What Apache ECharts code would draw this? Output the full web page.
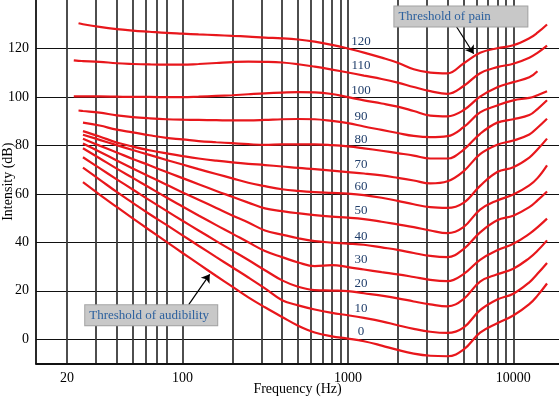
<!DOCTYPE html>
<html>
<head>
<meta charset="utf-8">
<title>Equal-loudness contours</title>
<script src="https://cdn.jsdelivr.net/npm/echarts@6/dist/echarts.min.js"></script>
<style>
  html, body { margin: 0; padding: 0; background: #fff; }
  #chart { width: 559px; height: 397px; }
</style>
</head>
<body>
<div id="chart"></div>
<script>
var freqs = [22, 23.5, 25, 31.5, 40, 50, 63, 80, 100, 125, 160, 200, 250, 315, 400, 500, 630, 800,
  1000, 1250, 1600, 2000, 2500, 3150, 4000, 5000, 6300, 8000, 10000, 12500, 14000, 16000];

// loudness level of each contour (phon)
var phons = [0, 10, 20, 30, 40, 50, 60, 70, 80, 90, 100, 110, 120];

// intensity (dB) of each contour at the frequencies above, null = not drawn
var contour0 = [null, null, 64.8, 59.7, 54.6, 49.9, 45.1, 40.2, 35.6, 31.1, 26.1, 21.7, 17.3, 13.2, 9.2, 5.6, 2.8, 1.2,
  0.3, -0.8, -2.6, -4.4, -5.9, -6.8, -7.0, -4.3, 2.7, 6.6, 9.8, 14.5, 18.0, 23.0];
var contour10 = [null, null, 70.8, 65.9, 60.8, 56.3, 51.7, 47.2, 42.9, 38.6, 33.9, 29.7, 25.5, 21.0, 16.1, 14.0, 12.3, 10.9,
  9.9, 8.8, 7.4, 5.8, 4.3, 3.1, 2.6, 4.8, 12.0, 16.4, 18.8, 23.5, 27.0, 31.5];
var contour20 = [null, null, 75.1, 70.6, 66.0, 61.8, 57.4, 53.0, 48.9, 44.9, 40.5, 36.6, 32.7, 28.5, 24.3, 21.7, 20.3, 20.1,
  19.9, 19.0, 18.0, 16.9, 15.6, 14.4, 13.6, 16.6, 23.8, 26.8, 29.1, 33.5, 36.5, 40.8];
var contour30 = [null, null, 78.8, 74.7, 70.4, 66.6, 62.6, 58.5, 54.8, 51.1, 47.1, 43.6, 40.0, 36.4, 33.9, 31.7, 30.2, 30.6,
  29.8, 28.8, 27.7, 26.8, 25.7, 24.5, 24.0, 26.9, 32.8, 36.7, 39.4, 43.5, 46.2, 49.8];
var contour40 = [null, null, 80.8, 77.4, 73.8, 70.5, 67.2, 63.8, 60.6, 57.6, 54.2, 51.1, 48.2, 44.9, 43.2, 41.7, 40.5, 39.9,
  39.5, 39.0, 37.9, 36.9, 35.6, 34.4, 33.9, 37.2, 44.1, 49.1, 51.0, 54.5, 57.3, 61.0];
var contour50 = [null, null, 82.7, 79.9, 77.1, 74.4, 71.8, 69.0, 66.5, 64.0, 61.2, 58.8, 56.4, 54.0, 52.9, 52.0, 51.2, 50.6,
  50.2, 49.6, 48.5, 47.4, 46.3, 44.9, 43.8, 46.3, 53.5, 57.3, 59.7, 63.5, 66.5, 71.8];
var contour60 = [null, null, 84.4, 82.3, 80.1, 78.1, 76.1, 74.0, 72.1, 70.2, 68.2, 66.4, 64.6, 63.2, 61.9, 61.2, 60.7, 60.4,
  60.1, 59.5, 58.4, 57.1, 55.7, 54.5, 54.2, 56.3, 63.3, 69.0, 71.0, 75.0, 78.3, 82.8];
var contour70 = [null, null, 85.9, 83.7, 81.2, 79.5, 78.0, 76.7, 75.6, 74.6, 73.7, 73.0, 72.4, 71.9, 71.3, 70.7, 70.2, 69.6,
  69.0, 68.4, 67.6, 66.6, 65.5, 64.3, 65.2, 69.3, 76.4, 80.3, 82.0, 84.5, 87.3, 91.0];
var contour80 = [null, null, 89.4, 88.2, 86.5, 85.4, 84.2, 83.1, 82.5, 81.8, 81.3, 80.9, 80.5, 80.2, 80.4, 80.4, 80.4, 80.1,
  79.6, 78.8, 77.8, 76.8, 75.8, 74.6, 74.6, 78.2, 84.8, 89.4, 90.8, 92.5, 95.0, 98.6];
var contour90 = [null, 94.4, 94.2, 93.5, 92.4, 91.7, 91.2, 90.8, 90.6, 90.5, 90.4, 90.3, 90.3, 90.5, 90.8, 90.9, 90.8, 90.1,
  89.2, 87.8, 86.4, 85.1, 83.9, 83.4, 83.8, 87.5, 93.6, 96.5, 98.6, 99.6, 100.7, 102.3];
var contour100 = [100.2, 100.2, 100.2, 100.2, 100.1, 100.0, 100.0, 99.9, 99.9, 100.1, 100.4, 100.7, 101.1, 101.5, 101.8, 102.0, 101.9, 101.2,
  99.9, 98.6, 97.3, 96.0, 94.2, 92.3, 92.0, 94.5, 100.1, 104.0, 106.1, 108.1, 110.6, null];
var contour110 = [115.1, 114.9, 114.8, 114.5, 113.9, 113.6, 113.4, 113.3, 113.3, 113.6, 114.0, 114.4, 114.6, 114.5, 114.2, 113.5, 112.5, 111.3,
  110.1, 108.8, 107.4, 105.9, 104.1, 102.4, 101.3, 104.5, 109.8, 112.3, 113.7, 116.2, 118.2, 121.2];
var contour120 = [null, 130.4, 130.0, 128.9, 128.0, 127.4, 126.9, 126.4, 126.1, 125.8, 125.5, 125.2, 124.9, 124.5, 124.2, 123.7, 122.8, 121.5,
  120.0, 118.3, 116.2, 114.1, 111.4, 110.0, 109.7, 113.8, 118.2, 120.1, 121.3, 124.2, 126.5, 129.9];

// axis ticks
var xGridFreqs = [20, 30, 40, 50, 60, 70, 80, 100, 200, 300, 400, 500, 600, 700, 800, 900,
  1000, 2000, 3000, 4000, 5000, 6000, 7000, 8000, 9000, 10000];
var xTickLabels = [20, 100, 1000, 10000];
var yTickLabels = [0, 20, 40, 60, 80, 100, 120];

// call-out boxes: left-middle anchor of the box, arrow start, arrow tip (Hz, dB)
var noteTexts = ['Threshold of pain', 'Threshold of audibility'];
var noteAnchors = [[1910, 133.2], [25.8, 9.9]];
var noteArrows = [[[4360, 130.8], [5760, 117.8]], [[109, 14.3], [146, 26.8]]];

var contours = [contour0, contour10, contour20, contour30, contour40, contour50, contour60,
  contour70, contour80, contour90, contour100, contour110, contour120];

var serif = "'Liberation Serif', 'Times New Roman', serif";
var red = '#e8171c';
var i1000 = freqs.indexOf(1000);

var series = phons.map(function (p, k) {
  return {
    name: p + ' phon',
    type: 'line',
    data: freqs.map(function (f, i) { return [f, contours[k][i]]; })
      .filter(function (d) { return d[1] !== null; }),
    smooth: 0.4,
    showSymbol: false,
    symbol: 'none',
    silent: true,
    z: 3,
    lineStyle: { color: red, width: 2.2 },
    itemStyle: { color: red }
  };
});

// labels and call-outs
var markData = phons.map(function (p, k) {
  return {
    coord: [1000, contours[k][i1000]],
    value: p,
    label: {
      show: true, position: 'inside', offset: [13, -7],
      formatter: String(p), color: '#1f3d6a', fontSize: 13, fontFamily: serif
    }
  };
});
noteTexts.forEach(function (t, i) {
  markData.push({
    coord: noteAnchors[i],
    value: t,
    label: {
      show: true, position: 'inside', align: 'left', verticalAlign: 'middle',
      formatter: t, color: '#2d619e', fontSize: 13, lineHeight: 14, fontFamily: serif,
      backgroundColor: '#c8c8c8', borderColor: '#a2a2a2', borderWidth: 1,
      padding: [3, 4, 3, 4], width: i === 0 ? 125 : 124
    }
  });
});

series.push({
  type: 'line',
  data: [],
  silent: true,
  z: 6,
  markPoint: {
    silent: true,
    symbol: 'circle',
    symbolSize: 0,
    itemStyle: { color: 'rgba(0,0,0,0)' },
    data: markData
  },
  markLine: {
    silent: true,
    symbol: ['none', 'arrow'],
    symbolSize: 8,
    lineStyle: { color: '#000', width: 1.2, type: 'solid' },
    label: { show: false },
    data: noteArrows.map(function (a) { return [{ coord: a[0] }, { coord: a[1] }]; })
  }
});

var option = {
  animation: false,
  backgroundColor: '#fff',
  textStyle: { fontFamily: serif },
  grid: { left: 36, right: 0, top: 0, bottom: 33.5, outerBoundsMode: 'none', containLabel: false },
  xAxis: {
    type: 'log',
    logBase: 10,
    min: 13,
    max: 18900,
    name: 'Frequency (Hz)',
    nameLocation: 'middle',
    nameGap: 19,
    nameMoveOverlap: false,
    nameTextStyle: { color: '#000', fontSize: 14, fontFamily: serif },
    axisLine: { show: true, onZero: false, lineStyle: { color: '#111', width: 1.8 } },
    axisTick: { show: false, customValues: xGridFreqs },
    axisLabel: {
      customValues: xTickLabels,
      formatter: function (v) { return String(Math.round(v)); },
      color: '#000', fontSize: 14, fontFamily: serif, margin: 8
    },
    splitLine: { show: true, lineStyle: { color: '#3a3a3a', width: 1.8 } }
  },
  yAxis: {
    type: 'value',
    min: -10,
    max: 140,
    name: 'Intensity (dB)',
    nameLocation: 'middle',
    nameGap: 21,
    nameMoveOverlap: false,
    nameTextStyle: { color: '#000', fontSize: 14, fontFamily: serif },
    axisLine: { show: true, onZero: false, lineStyle: { color: '#111', width: 1.8 } },
    axisTick: { show: false, customValues: yTickLabels },
    axisLabel: {
      customValues: yTickLabels,
      color: '#000', fontSize: 14, fontFamily: serif, margin: 7
    },
    splitLine: { show: true, lineStyle: { color: '#111', width: 1.2 } }
  },
  series: series
};

var myChart = echarts.init(document.getElementById('chart'));
myChart.setOption(option);
</script>
</body>
</html>
